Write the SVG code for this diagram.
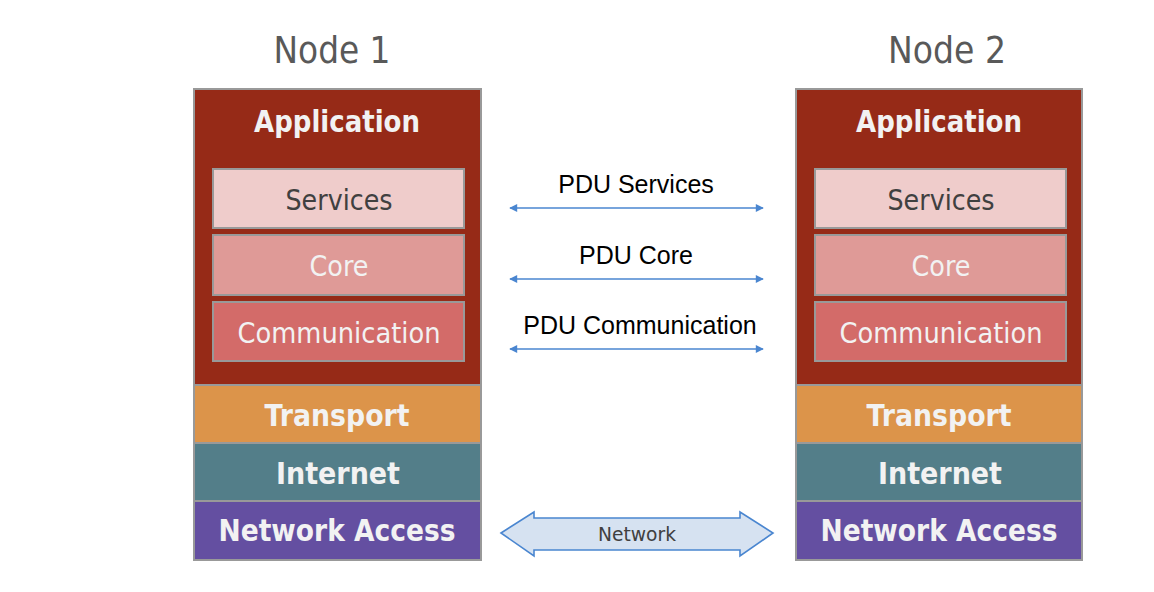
<svg xmlns="http://www.w3.org/2000/svg" width="1154" height="592" viewBox="0 0 1154 592">
<defs>
<style>
.box{stroke:#999999;stroke-width:2}
.title{font-family:"DejaVu Sans",sans-serif;font-size:38px;fill:#595959;text-anchor:middle}
.bold{font-family:"DejaVu Sans",sans-serif;font-weight:bold;font-size:30px;fill:#f2f2f2;text-anchor:middle}
.reg{font-family:"DejaVu Sans",sans-serif;font-size:29px;text-anchor:middle}
.pdu{font-family:"Liberation Sans",Arial,sans-serif;font-size:25px;fill:#000;text-anchor:middle}
.conn{stroke:#4a86d0;stroke-width:1.6;fill:none;marker-start:url(#ah);marker-end:url(#ah)}
</style>
<marker id="ah" viewBox="0 0 10 10" refX="9" refY="5" markerWidth="9" markerHeight="8" markerUnits="userSpaceOnUse" orient="auto-start-reverse">
<path d="M0,0 L10,5 L0,10 z" fill="#4a86d0"/>
</marker>
</defs>
<rect width="1154" height="592" fill="#ffffff"/>

<g id="node1">
<text class="title" x="332" y="63" textLength="117" lengthAdjust="spacingAndGlyphs">Node 1</text>
<rect class="box" x="194" y="89" width="287" height="296" fill="#962a17"/>
<text class="bold" x="337" y="132" textLength="166" lengthAdjust="spacingAndGlyphs">Application</text>
<rect class="box" x="213" y="169" width="251" height="59" fill="#efcccb"/>
<text class="reg" x="339" y="210" fill="#404040" textLength="107" lengthAdjust="spacingAndGlyphs">Services</text>
<rect class="box" x="213" y="235" width="251" height="60" fill="#df9a97"/>
<text class="reg" x="339" y="276" fill="#f2f2f2" textLength="59" lengthAdjust="spacingAndGlyphs">Core</text>
<rect class="box" x="213" y="302" width="251" height="59" fill="#d36b69"/>
<text class="reg" x="339" y="343" fill="#f2f2f2" textLength="203" lengthAdjust="spacingAndGlyphs">Communication</text>
<rect class="box" x="194" y="385" width="287" height="58" fill="#dc944a"/>
<text class="bold" x="337" y="426" textLength="145" lengthAdjust="spacingAndGlyphs">Transport</text>
<rect class="box" x="194" y="443" width="287" height="58" fill="#537e89"/>
<text class="bold" x="338" y="484" textLength="124" lengthAdjust="spacingAndGlyphs">Internet</text>
<rect class="box" x="194" y="501" width="287" height="59" fill="#644fa1"/>
<text class="bold" x="337" y="541" textLength="237" lengthAdjust="spacingAndGlyphs">Network Access</text>
</g>

<g id="node2">
<text class="title" x="947" y="63" textLength="118" lengthAdjust="spacingAndGlyphs">Node 2</text>
<rect class="box" x="796" y="89" width="286" height="296" fill="#962a17"/>
<text class="bold" x="939" y="132" textLength="166" lengthAdjust="spacingAndGlyphs">Application</text>
<rect class="box" x="815" y="169" width="251" height="59" fill="#efcccb"/>
<text class="reg" x="941" y="210" fill="#404040" textLength="107" lengthAdjust="spacingAndGlyphs">Services</text>
<rect class="box" x="815" y="235" width="251" height="60" fill="#df9a97"/>
<text class="reg" x="941" y="276" fill="#f2f2f2" textLength="59" lengthAdjust="spacingAndGlyphs">Core</text>
<rect class="box" x="815" y="302" width="251" height="59" fill="#d36b69"/>
<text class="reg" x="941" y="343" fill="#f2f2f2" textLength="203" lengthAdjust="spacingAndGlyphs">Communication</text>
<rect class="box" x="796" y="385" width="286" height="58" fill="#dc944a"/>
<text class="bold" x="939" y="426" textLength="145" lengthAdjust="spacingAndGlyphs">Transport</text>
<rect class="box" x="796" y="443" width="286" height="58" fill="#537e89"/>
<text class="bold" x="940" y="484" textLength="124" lengthAdjust="spacingAndGlyphs">Internet</text>
<rect class="box" x="796" y="501" width="286" height="59" fill="#644fa1"/>
<text class="bold" x="939" y="541" textLength="237" lengthAdjust="spacingAndGlyphs">Network Access</text>
</g>

<g id="connectors">
<line class="conn" x1="510" y1="208" x2="763" y2="208"/>
<text class="pdu" x="636" y="193">PDU Services</text>
<line class="conn" x1="510" y1="279" x2="763" y2="279"/>
<text class="pdu" x="636" y="264">PDU Core</text>
<line class="conn" x1="510" y1="349" x2="763" y2="349"/>
<text class="pdu" x="640" y="334">PDU Communication</text>
<path d="M501,533 L534,512 L534,518 L740,518 L740,512 L773,533 L740,556 L740,550 L534,550 L534,556 Z" fill="#d6e2f1" stroke="#4a86d0" stroke-width="1.6"/>
<text x="637" y="541" font-family="DejaVu Sans, sans-serif" font-size="20" fill="#404040" text-anchor="middle" textLength="78" lengthAdjust="spacingAndGlyphs">Network</text>
</g>
</svg>
